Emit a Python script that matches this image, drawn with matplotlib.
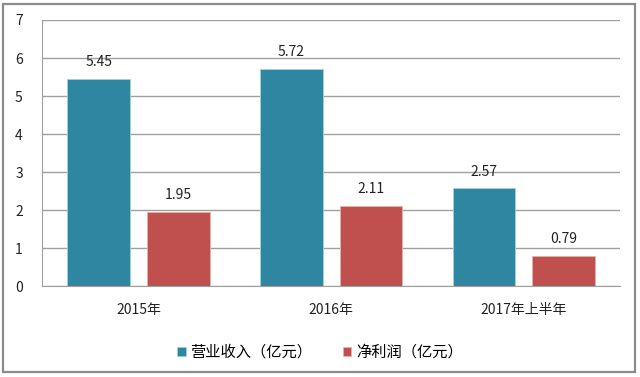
import numpy as np
import matplotlib
matplotlib.use("Agg")
from matplotlib import pyplot as plt
from matplotlib.patches import Rectangle

plt.rcParams['font.family'] = ['Noto Sans CJK SC', 'DejaVu Sans']

# data
categories = ['2015年', '2016年', '2017年上半年']
revenue = [5.45, 5.72, 2.57]
profit = [1.95, 2.11, 0.79]
series_names = ['营业收入（亿元）', '净利润（亿元）']
yticks = [0, 1, 2, 3, 4, 5, 6, 7]

teal = '#2E86A0'
red = '#C0504D'

fig = plt.figure(figsize=(6.4, 3.77), dpi=100)
# outer frame
fig.patches.append(Rectangle((3 / 640, 5 / 377), 632 / 640, 368 / 377,
                             transform=fig.transFigure, fill=False,
                             edgecolor='#8C8C8C', linewidth=1.6))

ax = fig.add_axes([0.066, 0.241, 0.903, 0.706])

x = np.arange(len(categories))
w = 0.326
gap = 0.088
off = (w + gap) / 2
b1 = ax.bar(x - off, revenue, w, color=teal, edgecolor='#9ED3DE', linewidth=0.6,
            label=series_names[0], zorder=3)
b2 = ax.bar(x + off, profit, w, color=red, edgecolor='#E8B2A8', linewidth=0.6,
            label=series_names[1], zorder=3)

for bars, vals in ((b1, revenue), (b2, profit)):
    for rect, v in zip(bars, vals):
        ax.annotate(f'{v:.2f}', (rect.get_x() + rect.get_width() / 2, v),
                    xytext=(0, 7), textcoords='offset points', ha='center',
                    va='bottom', fontsize=10, color='#222222', zorder=4)

ax.set_xlim(-0.5, len(categories) - 0.5)
ax.set_ylim(0, 7)
ax.set_yticks(yticks)
ax.set_xticks(x)
ax.set_xticklabels(categories)
ax.tick_params(axis='both', length=0, labelsize=10, colors='#222222')
ax.tick_params(axis='x', pad=12)
ax.tick_params(axis='y', pad=14)
ax.yaxis.grid(True, color='#A0A0A0', linewidth=1, zorder=1)
ax.set_axisbelow(True)
for s in ['top', 'right']:
    ax.spines[s].set_visible(False)
ax.spines['left'].set_color('#A0A0A0')
ax.spines['bottom'].set_color('#A0A0A0')

fig.legend(handles=[b1, b2], loc='center', bbox_to_anchor=(0.5, 0.066), ncol=2,
           frameon=False, fontsize=11, handlelength=0.55, handleheight=0.55,
           handletextpad=0.3, columnspacing=2.0)

fig.savefig('out.png', dpi=100)
